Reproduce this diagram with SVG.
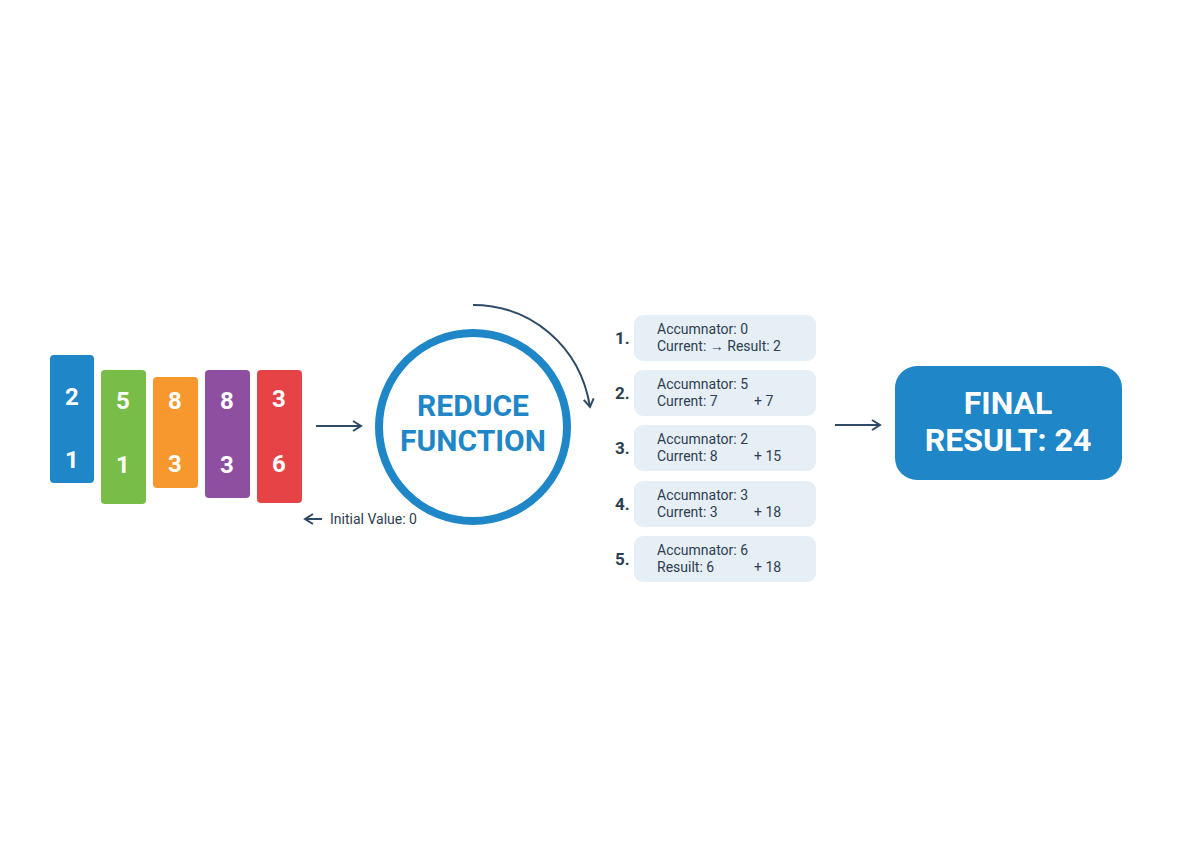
<svg xmlns="http://www.w3.org/2000/svg" width="1184" height="864" viewBox="0 0 1184 864">
<style>
.n{font-family:"Roboto","Liberation Sans",sans-serif;font-weight:700;font-size:24px;fill:#fff;text-anchor:middle}
.s{font-family:"Roboto","Liberation Sans",sans-serif;font-size:14px;fill:#2d3e50}
.k{font-family:"Roboto","Liberation Sans",sans-serif;font-weight:700;font-size:17px;fill:#2d3e50}
.box{fill:#e6eef6}
.ln{stroke:#2d4a66;stroke-width:2;fill:none}
</style>
<defs>
<marker id="a" markerWidth="12" markerHeight="12" refX="10" refY="6" orient="auto" markerUnits="userSpaceOnUse"><path d="M2,1 L10,6 L2,11" fill="none" stroke="#2d4a66" stroke-width="2"/></marker>
</defs>
<rect width="1184" height="864" fill="#fff"/>
<g id="array">
<rect x="50" y="355" width="44" height="128" rx="4" fill="#1f86c8"/><text class="n" x="72" y="405">2</text><text class="n" x="72" y="468">1</text>
<rect x="101" y="370" width="45" height="134" rx="4" fill="#77bd48"/><text class="n" x="123" y="409">5</text><text class="n" x="123" y="473">1</text>
<rect x="153" y="377" width="45" height="111" rx="4" fill="#f6982e"/><text class="n" x="175" y="409">8</text><text class="n" x="175" y="472">3</text>
<rect x="205" y="370" width="45" height="128" rx="4" fill="#8e4fa0"/><text class="n" x="227" y="409">8</text><text class="n" x="227" y="473">3</text>
<rect x="257" y="370" width="45" height="133" rx="4" fill="#e64346"/><text class="n" x="279" y="407">3</text><text class="n" x="279" y="472">6</text>
</g>
<g id="reduce">
<circle cx="473" cy="427" r="94" fill="#fff" stroke="#1f86c8" stroke-width="8"/>
<text x="473" y="416" text-anchor="middle" font-family="Roboto,'Liberation Sans',sans-serif" font-weight="700" font-size="30" fill="#1f86c8">REDUCE</text>
<text x="473" y="451" text-anchor="middle" font-family="Roboto,'Liberation Sans',sans-serif" font-weight="700" font-size="30" fill="#1f86c8">FUNCTION</text>
</g>
<g id="connectors">
<line class="ln" x1="316" y1="426" x2="361" y2="426" marker-end="url(#a)"/>
<line class="ln" x1="322" y1="519" x2="305" y2="519" marker-end="url(#a)"/>
<path class="ln" d="M473,305 C530,305 580,345 590,407" marker-end="url(#a)"/>
<line class="ln" x1="835" y1="425" x2="880" y2="425" marker-end="url(#a)"/>
</g>
<text id="initial" class="s" x="330" y="524">Initial Value: 0</text>
<g id="steps">
<rect class="box" x="634" y="315" width="182" height="46" rx="9"/><text class="k" x="615" y="344">1.</text><text class="s" x="657" y="334">Accumnator: 0</text><text class="s" x="657" y="351">Current:  → Result: 2</text>
<rect class="box" x="634" y="370" width="182" height="46" rx="9"/><text class="k" x="615" y="399">2.</text><text class="s" x="657" y="389">Accumnator: 5</text><text class="s" x="657" y="406">Current: 7</text><text class="s" x="754" y="406">+ 7</text>
<rect class="box" x="634" y="425" width="182" height="46" rx="9"/><text class="k" x="615" y="454">3.</text><text class="s" x="657" y="444">Accumnator: 2</text><text class="s" x="657" y="461">Current: 8</text><text class="s" x="754" y="461">+ 15</text>
<rect class="box" x="634" y="481" width="182" height="46" rx="9"/><text class="k" x="615" y="510">4.</text><text class="s" x="657" y="500">Accumnator: 3</text><text class="s" x="657" y="517">Current: 3</text><text class="s" x="754" y="517">+ 18</text>
<rect class="box" x="634" y="536" width="182" height="46" rx="9"/><text class="k" x="615" y="565">5.</text><text class="s" x="657" y="555">Accumnator: 6</text><text class="s" x="657" y="572">Resuilt: 6</text><text class="s" x="754" y="572">+ 18</text>
</g>
<g id="final">
<rect x="895" y="366" width="227" height="114" rx="22" fill="#1f86c8"/>
<text x="1008" y="414" text-anchor="middle" font-family="Roboto,'Liberation Sans',sans-serif" font-weight="700" font-size="32" fill="#fff">FINAL</text>
<text x="1008" y="451" text-anchor="middle" font-family="Roboto,'Liberation Sans',sans-serif" font-weight="700" font-size="32" fill="#fff">RESULT: 24</text>
</g>
</svg>
